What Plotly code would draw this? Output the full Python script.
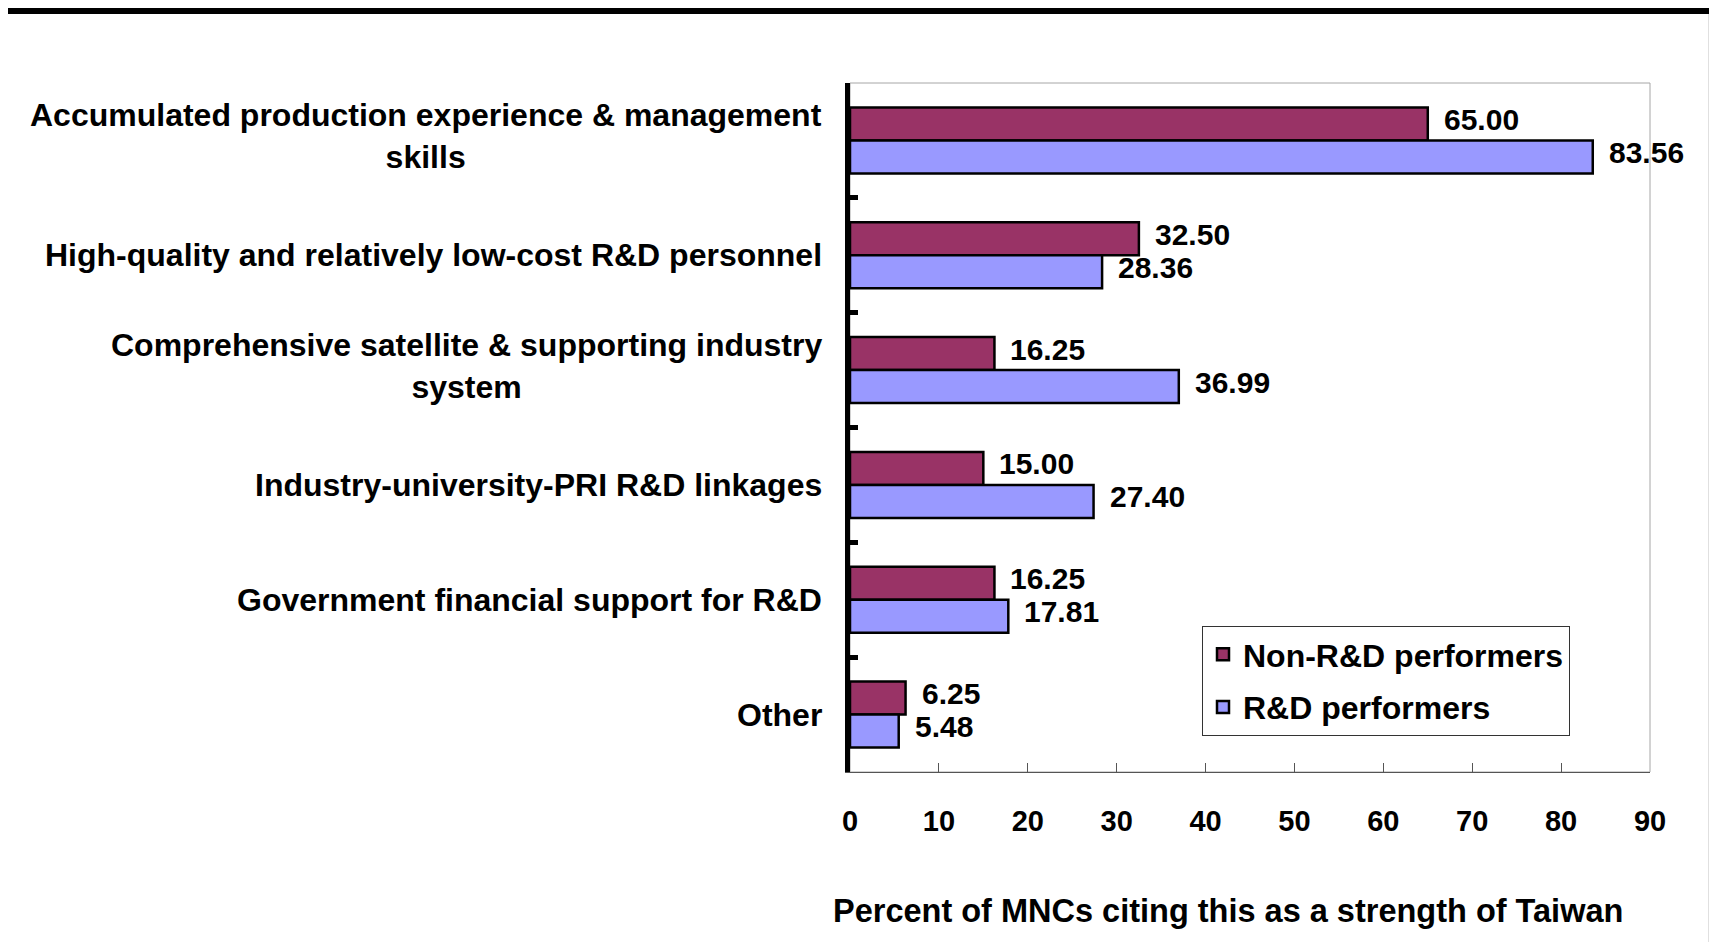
import plotly.graph_objects as go

categories = [
    "Accumulated production experience & management<br>skills",
    "High-quality and relatively low-cost R&D personnel",
    "Comprehensive satellite & supporting industry<br>system",
    "Industry-university-PRI R&D linkages",
    "Government financial support for R&D",
    "Other",
]
series_names = ["Non-R&D performers", "R&D performers"]
non_rd_values = [65.00, 32.50, 16.25, 15.00, 16.25, 6.25]
rd_values = [83.56, 28.36, 36.99, 27.40, 17.81, 5.48]
x_ticks = [0, 10, 20, 30, 40, 50, 60, 70, 80, 90]
x_title = "Percent of MNCs citing this as a strength of Taiwan"

colors = ["#993366", "#9999FF"]
FONT = "Liberation Sans, Arial, sans-serif"

fig = go.Figure()
for name, vals, col in zip(series_names, [non_rd_values, rd_values], colors):
    fig.add_trace(go.Bar(
        y=categories, x=vals, name=name, orientation="h",
        marker=dict(color=col, line=dict(color="black", width=2.5)),
        legendgroup=name,
    ))

annotations = []
# value labels
for vals, ys in [(non_rd_values, 21), (rd_values, -12)]:
    for c, v in zip(categories, vals):
        annotations.append(dict(
            x=v, y=c, xref="x", yref="y", text=f"<b>{v:.2f}</b>",
            showarrow=False, xanchor="left", yanchor="middle",
            xshift=14, yshift=ys,
            font=dict(family=FONT, size=30, color="black"),
        ))
# category labels
for c in categories:
    annotations.append(dict(
        x=0, y=c, xref="paper", yref="y", text=f"<b>{c}</b>",
        showarrow=False, xanchor="right", yanchor="middle", align="center",
        xshift=-26, yshift=4 if "<br>" in c else 0,
        font=dict(family=FONT, size=32, color="black"),
    ))
# x axis title
annotations.append(dict(
    x=0.5, y=0, xref="paper", yref="paper", text=f"<b>{x_title}</b>",
    showarrow=False, xanchor="center", yanchor="middle",
    xshift=-22, yshift=-139,
    font=dict(family=FONT, size=32.5, color="black"),
))

shapes = [
    # plot frame (light gray)
    dict(type="rect", xref="paper", yref="paper", x0=0, x1=1, y0=0, y1=1,
         line=dict(color="#A6A6A6", width=1), layer="below"),
    # black border of the slide
    dict(type="rect", xref="paper", yref="paper", x0=-1.2, x1=1.3, y0=1.1001, y1=1.3,
         line=dict(width=0), fillcolor="black", layer="above"),
    dict(type="rect", xref="paper", yref="paper", x0=1.0736, x1=1.3, y0=-0.4, y1=1.3,
         line=dict(width=0), fillcolor="black", layer="above"),
]

fig.update_layout(
    width=1701, height=934,
    margin=dict(l=842, r=59, t=75, b=170),
    paper_bgcolor="white", plot_bgcolor="white",
    barmode="group", bargap=0.425, bargroupgap=0,
    showlegend=True,
    legend=dict(
        x=0.44, y=0.2119, xanchor="left", yanchor="top",
        bordercolor="#333333", borderwidth=1, bgcolor="white",
        font=dict(family=FONT, size=32, color="black", weight="bold"),
        traceorder="grouped", tracegroupgap=8,
    ),
    xaxis=dict(
        range=[0, 90], tickvals=x_ticks, ticks="inside", ticklen=9,
        tickcolor="#555555", tickwidth=1, showline=True, linecolor="#555555",
        linewidth=1, showgrid=False, zeroline=False,
        tickfont=dict(family=FONT, size=29, color="black", weight="bold"),
        ticklabelstandoff=23,
    ),
    yaxis=dict(
        autorange="reversed", showticklabels=False, tickson="boundaries",
        ticks="inside", ticklen=8, tickwidth=5, tickcolor="black",
        showline=True, linecolor="black", linewidth=5, showgrid=False,
    ),
    annotations=annotations,
    shapes=shapes,
)

fig.write_html("out.html")
